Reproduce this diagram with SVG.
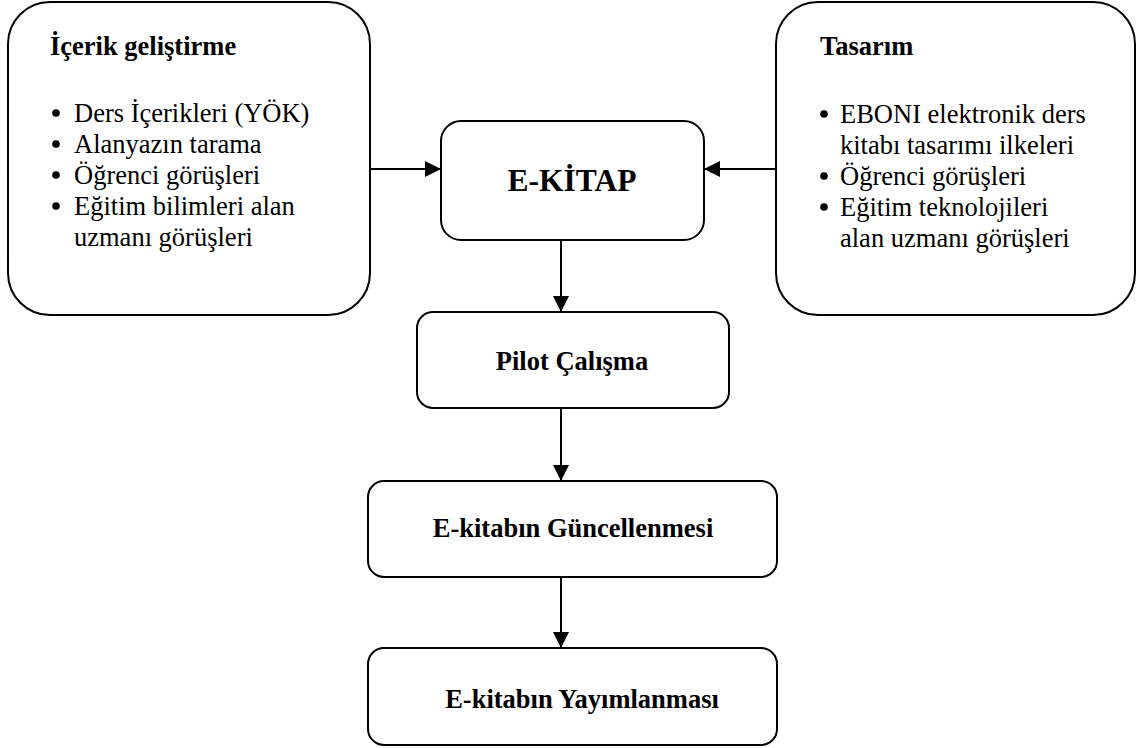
<svg xmlns="http://www.w3.org/2000/svg" width="1141" height="748" viewBox="0 0 1141 748">
  <style>
    .box { fill: #ffffff; stroke: #000000; stroke-width: 2; }
    .conn { stroke: #000000; stroke-width: 2; fill: none; }
    .bold { font-family: "Liberation Serif", serif; font-weight: bold; font-size: 26.5px; fill: #000000; }
    .reg { font-family: "Liberation Serif", Tinos, "Times New Roman", Times, "Nimbus Roman", "Nimbus Roman No9 L", FreeSerif, "Noto Serif", "DejaVu Serif", Georgia, serif; font-weight: 400; font-size: 26.5px; fill: #000000; }
    .title { font-family: "Liberation Serif", serif; font-weight: bold; font-size: 31.5px; fill: #000000; }
    .dot { fill: #000000; }
  </style>
  <defs>
    <marker id="arrow" viewBox="0 0 16 16" refX="16" refY="8" markerWidth="16" markerHeight="16" markerUnits="userSpaceOnUse" orient="auto">
      <path d="M0,0 L16,8 L0,16 Z" fill="#000000"/>
    </marker>
  </defs>

  <rect width="1141" height="748" fill="#ffffff"/>

  <!-- connectors -->
  <g id="connectors">
    <line class="conn" x1="370" y1="169" x2="441" y2="169" marker-end="url(#arrow)"/>
    <line class="conn" x1="776" y1="169" x2="704" y2="169" marker-end="url(#arrow)"/>
    <line class="conn" x1="561" y1="240" x2="561" y2="312" marker-end="url(#arrow)"/>
    <line class="conn" x1="561" y1="408" x2="561" y2="481" marker-end="url(#arrow)"/>
    <line class="conn" x1="561" y1="577" x2="561" y2="648" marker-end="url(#arrow)"/>
  </g>

  <!-- content development -->
  <g id="icerik">
    <rect class="box" x="8" y="2" width="362" height="313" rx="42" ry="42"/>
    <text class="bold" x="50" y="55">İçerik geliştirme</text>
    <circle class="dot" cx="56" cy="113" r="3.8"/>
    <circle class="dot" cx="56" cy="144" r="3.8"/>
    <circle class="dot" cx="56" cy="175" r="3.8"/>
    <circle class="dot" cx="56" cy="206" r="3.8"/>
    <text class="reg" x="74" y="122">Ders İçerikleri (YÖK)</text>
    <text class="reg" x="74" y="153">Alanyazın tarama</text>
    <text class="reg" x="74" y="184">Öğrenci görüşleri</text>
    <text class="reg" x="74" y="215">Eğitim bilimleri alan</text>
    <text class="reg" x="74" y="246">uzmanı görüşleri</text>
  </g>

  <!-- design -->
  <g id="tasarim">
    <rect class="box" x="776" y="2" width="359" height="313" rx="42" ry="42"/>
    <text class="bold" x="820" y="55">Tasarım</text>
    <circle class="dot" cx="824" cy="114" r="3.8"/>
    <circle class="dot" cx="824" cy="176" r="3.8"/>
    <circle class="dot" cx="824" cy="207" r="3.8"/>
    <text class="reg" x="840" y="123">EBONI elektronik ders</text>
    <text class="reg" x="840" y="154">kitabı tasarımı ilkeleri</text>
    <text class="reg" x="840" y="185">Öğrenci görüşleri</text>
    <text class="reg" x="840" y="216">Eğitim teknolojileri</text>
    <text class="reg" x="840" y="247">alan uzmanı görüşleri</text>
  </g>

  <!-- e-book -->
  <g id="ekitap">
    <rect class="box" x="441" y="121" width="263" height="119" rx="20" ry="20"/>
    <text class="title" x="572" y="191" text-anchor="middle">E-KİTAP</text>
  </g>

  <g id="pilot">
    <rect class="box" x="417" y="312" width="312" height="96" rx="16" ry="16"/>
    <text class="bold" x="572" y="370" text-anchor="middle">Pilot Çalışma</text>
  </g>

  <g id="guncelleme">
    <rect class="box" x="368" y="481" width="409" height="96" rx="16" ry="16"/>
    <text class="bold" x="573" y="537" text-anchor="middle">E-kitabın Güncellenmesi</text>
  </g>

  <g id="yayimlama">
    <rect class="box" x="368" y="648" width="409" height="97" rx="16" ry="16"/>
    <text class="bold" x="582" y="708" text-anchor="middle">E-kitabın Yayımlanması</text>
  </g>
</svg>
